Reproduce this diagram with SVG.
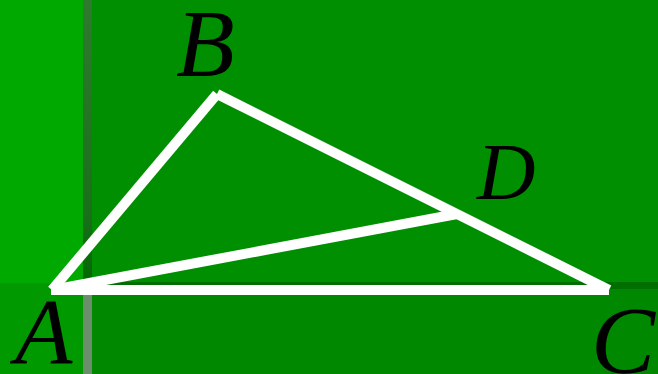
<svg xmlns="http://www.w3.org/2000/svg" width="658" height="374" viewBox="0 0 658 374">
<style>
.lbl{font-family:"Liberation Serif","Times New Roman",serif;font-style:italic;fill:#000}
.edge{stroke:#fff;stroke-width:10;stroke-linecap:butt;fill:none}
</style>
<defs>
<linearGradient id="strip" x1="0" y1="0" x2="0" y2="1">
<stop offset="0" stop-color="#2f7a2f"/>
<stop offset="0.75" stop-color="#1a701a"/>
<stop offset="1" stop-color="#006800"/>
</linearGradient>
</defs>
<g id="background">
<rect x="0" y="0" width="658" height="374" fill="#008f00"/>
<rect x="0" y="0" width="83" height="283" fill="#00a900"/>
<rect x="0" y="283" width="83" height="91" fill="#009a00"/>
<rect x="92" y="289" width="566" height="85" fill="#008800"/>
<rect x="92" y="282" width="566" height="7" fill="#006e00"/>
<rect x="83" y="0" width="9" height="285" fill="url(#strip)"/>
<rect x="83" y="285" width="9" height="89" fill="#6a8f6a"/>
</g>
<g id="connectors">
<line class="edge" x1="52" y1="290" x2="217" y2="94"/>
<line class="edge" x1="217" y1="94" x2="609" y2="290"/>
<line class="edge" x1="51" y1="290" x2="609" y2="290"/>
<line class="edge" x1="52" y1="290" x2="457" y2="214"/>
</g>
<g id="node-A"><text class="lbl" x="15" y="363" font-size="94">A</text></g>
<g id="node-B"><text class="lbl" x="176" y="76" font-size="96">B</text></g>
<g id="node-C"><text class="lbl" x="591" y="373" font-size="96">C</text></g>
<g id="node-D"><text class="lbl" x="477" y="199" font-size="81">D</text></g>
</svg>
